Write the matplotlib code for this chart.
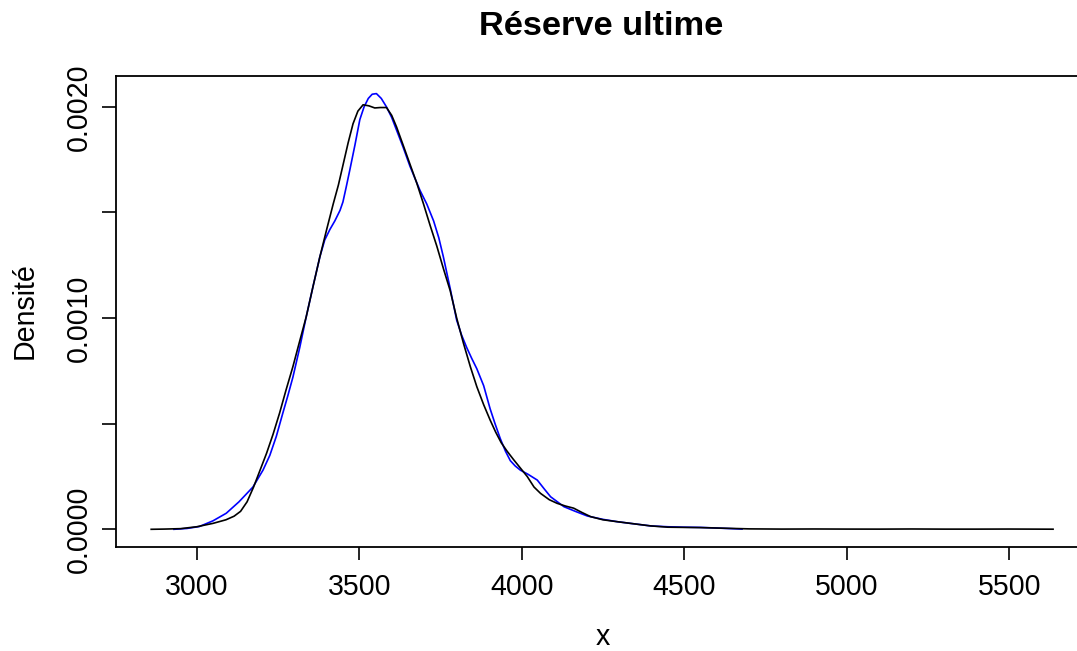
import matplotlib
matplotlib.use("Agg")
import matplotlib.pyplot as plt

plt.rcParams['font.family'] = ['Liberation Sans', 'DejaVu Sans']

# Black density curve (x, density)
black_x = [2860, 2900, 2950, 3000, 3050, 3090, 3115, 3135, 3155, 3175, 3195, 3215, 3235, 3255,
           3275, 3296, 3315, 3337, 3358, 3379, 3400, 3420, 3436, 3451, 3466, 3481, 3496,
           3512, 3530, 3548, 3565, 3584, 3600, 3615, 3635, 3656, 3677, 3698, 3718, 3739,
           3760, 3780, 3800, 3821, 3842, 3862, 3883, 3903, 3920, 3937, 3955, 3975, 3996, 4017,
           4038, 4058, 4085, 4109, 4135, 4160, 4185, 4212, 4250, 4294, 4340, 4397, 4450,
           4500, 4550, 4600, 4650, 4700, 4800, 4900, 5000, 5100, 5200, 5300, 5400, 5500, 5635]
black_y = [0.0, 0.000001, 0.000003, 0.000012, 0.000028, 0.000045, 0.000062, 0.000085, 0.00013,
           0.0002, 0.00028, 0.00036, 0.00045, 0.00055, 0.00066, 0.00077, 0.00088, 0.001006,
           0.00115, 0.00129, 0.00142, 0.00154, 0.00163, 0.00173, 0.00183, 0.00192, 0.00198,
           0.00201, 0.002005, 0.001995, 0.001997, 0.001997, 0.00196, 0.001905, 0.00182, 0.00173,
           0.00164, 0.00154, 0.00144, 0.00134, 0.00123, 0.00113, 0.001, 0.00088, 0.00077,
           0.000675, 0.00059, 0.000517, 0.00046, 0.00041, 0.00037, 0.00033, 0.00029, 0.00025,
           0.0002, 0.00017, 0.00014, 0.000123, 0.00011, 0.0001, 0.00008, 0.00006, 0.000045,
           0.000036, 0.000027, 0.000016, 0.00001, 0.000009, 0.000008, 0.000006, 0.000004,
           0.000002, 0.000001, 0.0000015, 0.000001, 0.0000008, 0.0000015, 0.0000008, 0.0000008,
           0.0000012, 0.0000005]

# Blue density curve
blue_x = [2930, 2970, 3008, 3050, 3091, 3130, 3173, 3204, 3225, 3245, 3265, 3280, 3296, 3317,
          3337, 3358, 3379, 3394, 3410, 3425, 3441, 3450, 3460, 3471, 3487, 3502, 3515, 3528,
          3540, 3553, 3568, 3584, 3600, 3615, 3635, 3656, 3672, 3687, 3708, 3729, 3745, 3759,
          3780, 3800, 3815, 3831, 3846, 3862, 3883, 3903, 3918, 3934, 3950, 3965, 3980, 3996,
          4020, 4048, 4070, 4089, 4110, 4130, 4165, 4202, 4250, 4294, 4340, 4397, 4450, 4500,
          4550, 4600, 4678]
blue_y = [0.0, 0.000004, 0.000013, 0.00004, 0.000076, 0.00013, 0.0002, 0.00028, 0.00035,
          0.00044, 0.00055, 0.00063, 0.00072, 0.00086, 0.001006, 0.00115, 0.00129, 0.00137,
          0.00142, 0.00146, 0.00151, 0.00155, 0.00162, 0.0017, 0.00182, 0.00194, 0.002,
          0.00204, 0.00206, 0.002063, 0.00204, 0.002, 0.00195, 0.00189, 0.00181, 0.00172,
          0.00166, 0.001605, 0.00154, 0.00146, 0.00138, 0.00129, 0.00114, 0.00099, 0.00092,
          0.00086, 0.00081, 0.00076, 0.00068, 0.00057, 0.0005, 0.00043, 0.00037, 0.000325,
          0.0003, 0.00028, 0.00026, 0.000233, 0.00019, 0.000154, 0.00013, 0.000107, 0.000085,
          0.000063, 0.000047, 0.000036, 0.000027, 0.000016, 0.000012, 0.00001, 0.000009,
          0.000006, 0.000001]

x_ticks = [3000, 3500, 4000, 4500, 5000, 5500]
y_ticks = [0.0, 0.0005, 0.0010, 0.0015, 0.0020]
y_tick_labels = ["0.0000", "", "0.0010", "", "0.0020"]

W, H = 1077, 651
fig = plt.figure(figsize=(W / 100, H / 100), dpi=100)
left, right, top, bottom = 115.7, 1089.0, 76.0, 546.7
ax = fig.add_axes([left / W, 1 - bottom / H, (right - left) / W, (bottom - top) / H])

ax.plot(blue_x, blue_y, color='#0000ff', lw=1.2, solid_joinstyle='round')
ax.plot(black_x, black_y, color='black', lw=1.2, solid_joinstyle='round')

ax.set_xlim(2750.8, 5745.6)
ax.set_ylim(-8.24e-5, 2.1463e-3)

fs = 20.6
ax.set_xticks(x_ticks)
ax.set_xticklabels([str(v) for v in x_ticks], fontsize=fs)
ax.set_yticks(y_ticks)
ax.set_yticklabels(y_tick_labels, fontsize=fs, rotation=90, va='center')
ax.tick_params(axis='x', length=9.6, width=1.2, pad=9.6)
ax.tick_params(axis='y', length=10.0, width=1.2, pad=6.6)
for s in ax.spines.values():
    s.set_linewidth(1.3)

fig.text(601 / W, 1 - 35 / H, "Réserve ultime", ha='center', va='baseline',
         fontsize=fs * 1.2, fontweight='bold')
fig.text(603 / W, 1 - 645 / H, "x", ha='center', va='baseline', fontsize=fs)
fig.text(33 / W, 1 - 311 / H, "Densité", ha='center', va='baseline', rotation=90,
         rotation_mode='anchor', fontsize=fs)

fig.savefig("out.png", dpi=100)
